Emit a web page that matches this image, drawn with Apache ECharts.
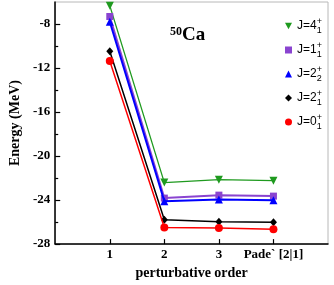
<!DOCTYPE html>
<html>
<head>
<meta charset="utf-8">
<script src="https://cdn.jsdelivr.net/npm/echarts@6/dist/echarts.min.js"></script>
<style>html,body{margin:0;padding:0;background:#fff}#c{width:334px;height:285px}</style>
</head>
<body>
<div id="c"></div>
<script>
var xPositions = [1, 2, 3, 4];
var xLabels = ['1', '2', '3', 'Pade` [2|1]'];
var seriesNames = ['J=4_1^+', 'J=1_1^+', 'J=2_2^+', 'J=2_1^+', 'J=0_1^+'];
var j4 = [-6.33, -22.41, -22.15, -22.24];
var j1 = [-7.32, -23.82, -23.55, -23.64];
var j22 = [-7.80, -24.11, -23.94, -24.02];
var j21 = [-10.48, -25.78, -25.96, -26.01];
var j0 = [-11.36, -26.50, -26.54, -26.66];
var yMajorTicks = [-28, -24, -20, -16, -12, -8];
var yMinorTicks = [-26, -22, -18, -14, -10];

var legendParts = {
  'J=4_1^+': ['J=4', '+', '1'],
  'J=1_1^+': ['J=1', '+', '1'],
  'J=2_2^+': ['J=2', '+', '2'],
  'J=2_1^+': ['J=2', '+', '1'],
  'J=0_1^+': ['J=0', '+', '1']
};

function pts(arr) { return arr.map(function (v, i) { return [xPositions[i], v]; }); }

var serif = 'Liberation Serif';
var styles = [
  { c: '#1f9a1f', s: 'path://M0,0 L10,0 L5,9 Z', size: 8, w: 1.3 },
  { c: '#8a44d0', s: 'rect', size: 7, w: 2 },
  { c: '#0000ff', s: 'triangle', size: 8, w: 2 },
  { c: '#000000', s: 'diamond', size: [7, 8], w: 1.5 },
  { c: '#ff0000', s: 'circle', size: 8, w: 1.5 }
];
var datas = [j4, j1, j22, j21, j0];

var series = datas.map(function (d, i) {
  return {
    name: seriesNames[i], type: 'line', xAxisIndex: 0, yAxisIndex: 0,
    data: pts(d), symbol: styles[i].s, symbolSize: styles[i].size,
    itemStyle: { color: styles[i].c },
    lineStyle: { color: styles[i].c, width: styles[i].w },
    animation: false, z: 5 + i
  };
});

var chart = echarts.init(document.getElementById('c'), null, { renderer: 'canvas' });
chart.setOption({
  animation: false,
  grid: { left: 41, right: 6, top: 2, bottom: 32, show: true, borderColor: '#b8b8b8', borderWidth: 1 },
  xAxis: {
    type: 'value', min: 0, max: 5,
    name: 'perturbative order', nameLocation: 'middle', nameGap: 17,
    nameTextStyle: { fontFamily: serif, fontWeight: 'bold', fontSize: 14, color: '#000' },
    axisLine: { lineStyle: { color: '#000', width: 1.5 } },
    axisTick: { inside: true, length: 5, lineStyle: { color: '#000', width: 1.2 }, customValues: xPositions },
    axisLabel: {
      customValues: xPositions, margin: 4,
      fontFamily: serif, fontWeight: 'bold', fontSize: 13, color: '#000',
      formatter: function (v) { return xLabels[xPositions.indexOf(v)] || ''; }
    },
    splitLine: { show: false }
  },
  yAxis: [{
    type: 'value', min: -28, max: -6, interval: 4,
    name: 'Energy (MeV)', nameLocation: 'middle', nameGap: 26, nameRotate: 90,
    nameTextStyle: { fontFamily: serif, fontWeight: 'bold', fontSize: 14, color: '#000' },
    axisLine: { lineStyle: { color: '#000', width: 1.5 } },
    axisTick: { inside: true, length: 5, lineStyle: { color: '#000', width: 1.2 }, customValues: yMajorTicks },
    axisLabel: {
      customValues: yMajorTicks, margin: 5,
      fontFamily: serif, fontWeight: 'bold', fontSize: 13, color: '#000'
    },
    splitLine: { show: false }
  }, {
    type: 'value', min: -28, max: -6, position: 'left',
    axisLine: { show: false },
    axisTick: { inside: true, length: 3, lineStyle: { color: '#000', width: 1.2 }, customValues: yMinorTicks },
    axisLabel: { show: false, customValues: yMinorTicks },
    splitLine: { show: false }
  }],
  legend: {
    orient: 'vertical', left: 280, top: 12, itemGap: 6,
    itemWidth: 7, itemHeight: 7,
    data: seriesNames.map(function (n, i) {
      return { name: n, icon: styles[i].s, itemStyle: { color: styles[i].c, borderWidth: 0 } };
    }),
    formatter: function (n) {
      var p = legendParts[n];
      return '{a|' + p[0] + '}{sup|' + p[1] + '}{sub|' + p[2] + '}';
    },
    textStyle: {
      lineHeight: 18,
      rich: {
        a: { fontFamily: 'Liberation Sans', fontSize: 12, color: '#000', lineHeight: 18, verticalAlign: 'middle' },
        sup: { fontFamily: 'Liberation Sans', fontSize: 9, color: '#000', width: 0, verticalAlign: 'top', lineHeight: 10 },
        sub: { fontFamily: 'Liberation Sans', fontSize: 9, color: '#000', verticalAlign: 'bottom', lineHeight: 10 }
      }
    }
  },
  graphic: [{
    type: 'text', left: 170, top: 26,
    style: {
      text: '{s|50}{c|Ca}',
      rich: {
        s: { fontFamily: serif, fontWeight: 'bold', fontSize: 12, verticalAlign: 'top', fill: '#000' },
        c: { fontFamily: serif, fontWeight: 'bold', fontSize: 19, fill: '#000' }
      }
    }
  }],
  series: series
});
</script>
</body>
</html>
